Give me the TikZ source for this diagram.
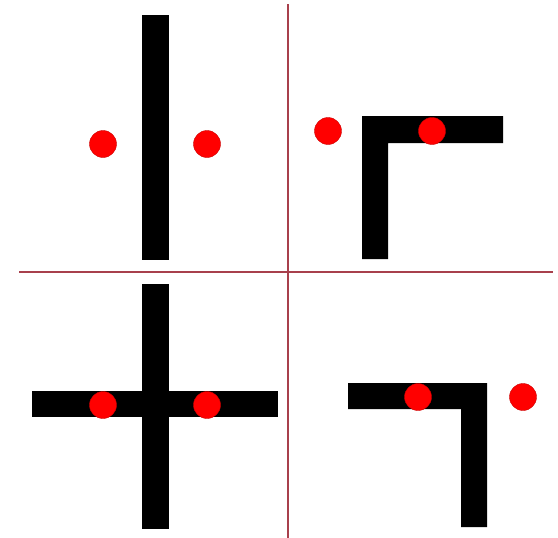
\documentclass[tikz,border=0pt]{standalone}
\begin{document}
\begin{tikzpicture}[x=1pt,y=-1pt,
  divider/.style={draw=divred,line width=1.8pt},
  barshape/.style={fill=black},
  dot/.style={circle,fill=red,draw=red!80!black,line width=0.4pt,minimum size=27pt,inner sep=0pt}]
\definecolor{divred}{HTML}{A8404C}
\useasboundingbox[fill=white] (0,0) rectangle (558,538);
% dividers
\coordinate (vt) at (288,4);
\coordinate (vb) at (288,538);
\coordinate (hl) at (19,272);
\coordinate (hr) at (553,272);
\draw[divider] (vt) -- (vb);
\draw[divider] (hl) -- (hr);
% top-left: vertical bar
\fill[barshape] (142,15) rectangle (169,260);
\node[dot] (d1) at (103,144) {};
\node[dot] (d2) at (207,144) {};
% top-right: L shape
\fill[barshape] (362,116) -- (503,116) -- (503,143) -- (388,143) -- (388,259) -- (362,259) -- cycle;
\node[dot] (d3) at (328,131) {};
\node[dot] (d4) at (432,131) {};
% bottom-left: cross
\fill[barshape] (142,284) rectangle (169,529);
\fill[barshape] (32,391) rectangle (278,417);
\node[dot] (d5) at (103,405) {};
\node[dot] (d6) at (207,405) {};
% bottom-right: reversed L
\fill[barshape] (348,383) -- (487,383) -- (487,527) -- (461,527) -- (461,409) -- (348,409) -- cycle;
\node[dot] (d7) at (418,397) {};
\node[dot] (d8) at (523,397) {};
\end{tikzpicture}
\end{document}
